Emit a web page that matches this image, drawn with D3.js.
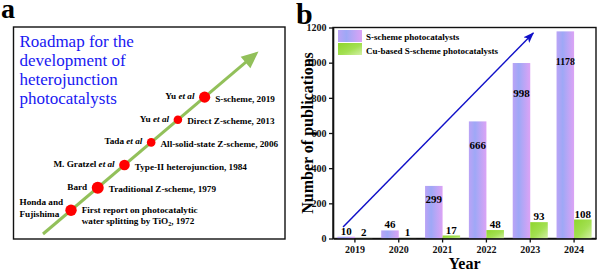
<!DOCTYPE html>
<html>
<head>
<meta charset="utf-8">
<script src="https://cdn.jsdelivr.net/npm/d3@7"></script>
<style>
  body { margin: 0; background: #fff; }
  svg, svg text { font-family: "Liberation Serif", "DejaVu Serif", serif; }
</style>
</head>
<body>
<svg width="600" height="272"></svg>
<script>
// panel b data
const years = [2019, 2020, 2021, 2022, 2023, 2024];
const sScheme = [10, 46, 299, 666, 998, 1178];
const cuScheme = [2, 1, 17, 48, 93, 108];
const seriesNames = ["S-scheme photocatalysts", "Cu-based S-scheme photocatalysts"];
const yTicks = [0, 200, 400, 600, 800, 1000, 1200];
const trend = [[2018.73, 65], [2023.07, 1169]];

// panel a data
const titleLines = ["Roadmap for the", "development of", "heterojunction", "photocatalysts"];
const nameLines = [["Honda and", "Fujishima"], ["Bard"], ["M. Gratzel"], ["Tada"], ["Yu"], ["Yu"]];
const etAl = [false, false, true, true, true, true];
const eventLines = [
  ["First report on photocatalytic", "water splitting by TiO\u2082, 1972"],
  ["Traditional Z-scheme, 1979"],
  ["Type-II heterojunction, 1984"],
  ["All-solid-state Z-scheme, 2006"],
  ["Direct Z-scheme, 2013"],
  ["S-scheme, 2019"]
];

const svg = d3.select("svg").attr("font-family", "Liberation Serif, serif");
const defs = svg.append("defs");

// gradients for the bars
const gPurple = defs.append("linearGradient").attr("id", "gPurple")
    .attr("x1", "0").attr("y1", "0").attr("x2", "1").attr("y2", "0");
gPurple.append("stop").attr("offset", "0").attr("stop-color", "#bba3f6");
gPurple.append("stop").attr("offset", "0.35").attr("stop-color", "#9ea8f6");
gPurple.append("stop").attr("offset", "1").attr("stop-color", "#dca3f5");

const gGreen = defs.append("linearGradient").attr("id", "gGreen")
    .attr("x1", "0").attr("y1", "0").attr("x2", "1").attr("y2", "1");
gGreen.append("stop").attr("offset", "0").attr("stop-color", "#8ed52c");
gGreen.append("stop").attr("offset", "0.55").attr("stop-color", "#a3e052");
gGreen.append("stop").attr("offset", "1").attr("stop-color", "#d4f0a6");

defs.append("marker").attr("id", "blueHead")
    .attr("markerUnits", "userSpaceOnUse")
    .attr("markerWidth", 11).attr("markerHeight", 8)
    .attr("refX", 10).attr("refY", 4).attr("orient", "auto")
  .append("path").attr("d", "M0,0L11,4L0,8L2.5,4Z").attr("fill", "#1010c8");

// ---------------- panel a ----------------
svg.append("text").attr("x", 1).attr("y", 18)
    .style("font-size", "28px").style("font-weight", "bold").text("a");

svg.append("rect").attr("x", 13.5).attr("y", 27).attr("width", 271.5).attr("height", 212)
    .attr("fill", "none").attr("stroke", "#111").attr("stroke-width", 1.4);

svg.append("g").selectAll("text").data(titleLines).join("text")
    .attr("x", 19.5).attr("y", (d, i) => 46.7 + i * 19.2)
    .attr("fill", "#1818f2").style("font-size", "17px").text(d => d);

const road = {x0: 43, y0: 234, x1: 258.5, y1: 51.5};
const roadLen = Math.hypot(road.x1 - road.x0, road.y1 - road.y0);
const ux = (road.x1 - road.x0) / roadLen, uy = (road.y1 - road.y0) / roadLen;
const headL = 17, headW = 7.5;
svg.append("line")
    .attr("x1", road.x0).attr("y1", road.y0)
    .attr("x2", road.x1 - ux * (headL - 2)).attr("y2", road.y1 - uy * (headL - 2))
    .attr("stroke", "#92c05a").attr("stroke-width", 3);
const bx = road.x1 - ux * headL, by = road.y1 - uy * headL;
svg.append("path")
    .attr("d", `M${road.x1},${road.y1}L${bx - uy * headW},${by + ux * headW}L${bx + uy * headW},${by - ux * headW}Z`)
    .attr("fill", "#92c05a");

const along = d3.scaleLinear().domain([0, nameLines.length - 1]).range([0.13, 0.75]);
const dotR = [5.7, 6, 5.3, 4.3, 4.3, 5.6];
const pt = i => [road.x0 + along(i) * (road.x1 - road.x0), road.y0 + along(i) * (road.y1 - road.y0)];

function richLine(sel, str) {
  const parts = str.split("\u2082");
  sel.append("tspan").text(parts[0]);
  if (parts.length > 1) {
    sel.append("tspan").attr("dy", 2).style("font-size", "6px").text("2");
    sel.append("tspan").attr("dy", -2).text(parts[1]);
  }
}

const miles = svg.append("g").style("font-size", "9.2px").style("font-weight", "bold");
nameLines.forEach((lines, i) => {
  const [cx, cy] = pt(i);
  const r = dotR[i];
  if (lines.length > 1) {
    lines.forEach((ln, k) => {
      miles.append("text").attr("x", 19.5).attr("y", cy - 5 + k * 11.5).text(ln);
    });
  } else {
    const t = miles.append("text").attr("x", cx - r - 4.5).attr("y", cy + 2)
        .attr("text-anchor", "end");
    t.append("tspan").text(lines[0]);
    if (etAl[i]) t.append("tspan").style("font-style", "italic").text(" et al");
  }
  const ev = eventLines[i];
  ev.forEach((ln, k) => {
    const y0 = ev.length > 1 ? cy + 2.3 : cy + 4.5;
    const t = miles.append("text").attr("x", cx + r + 5).attr("y", y0 + k * 11);
    richLine(t, ln);
  });
  svg.append("circle").attr("cx", cx).attr("cy", cy).attr("r", r).attr("fill", "#ff0000");
});

// ---------------- panel b ----------------
svg.append("text").attr("x", 296).attr("y", 23.5)
    .style("font-size", "30px").style("font-weight", "bold").text("b");

const m = {left: 333, right: 596, top: 27.5, bottom: 238.5};
const x0 = d3.scaleBand().domain(years).range([m.left, m.right]).paddingInner(0.2).paddingOuter(0.1);
const x1 = d3.scaleBand().domain([0, 1]).range([0, x0.bandwidth()]);
const y = d3.scaleLinear().domain([0, 1200]).range([m.bottom, m.top]);
const xYear = d3.scaleLinear().domain([years[0], years[years.length - 1]])
    .range([x0(years[0]) + x0.bandwidth() / 2, x0(years[years.length - 1]) + x0.bandwidth() / 2]);

svg.append("rect").attr("x", m.left).attr("y", m.top)
    .attr("width", m.right - m.left).attr("height", m.bottom - m.top)
    .attr("fill", "none").attr("stroke", "#111").attr("stroke-width", 1.4);

const series = [sScheme, cuScheme];
const fills = ["url(#gPurple)", "url(#gGreen)"];
const bw = x1.bandwidth();

series.forEach((vals, s) => {
  svg.append("g").selectAll("rect").data(vals).join("rect")
      .attr("x", (d, i) => x0(years[i]) + x1(s))
      .attr("y", d => y(d))
      .attr("width", bw)
      .attr("height", d => y(0) - y(d))
      .attr("fill", fills[s]);
});

// value labels
const labels = svg.append("g").style("font-weight", "bold").attr("text-anchor", "middle");
series.forEach((vals, s) => {
  vals.forEach((v, i) => {
    const cx = x0(years[i]) + x1(s) + bw / 2;
    const txt = String(v);
    const inside = s === 0 && v > 200;
    const fs = Math.min(11, (bw + 2) / (0.5 * txt.length));
    labels.append("text")
        .attr("x", cx)
        .attr("y", inside ? y(v) + Math.min(34, 8 + v * 0.03) : y(v) - 2)
        .style("font-size", fs + "px")
        .text(txt);
  });
});

// trend arrow
svg.append("line")
    .attr("x1", xYear(trend[0][0])).attr("y1", y(trend[0][1]))
    .attr("x2", xYear(trend[1][0])).attr("y2", y(trend[1][1]))
    .attr("stroke", "#1010c8").attr("stroke-width", 1.5)
    .attr("marker-end", "url(#blueHead)");

// axes
const yAxis = svg.append("g").attr("transform", `translate(${m.left},0)`)
    .call(d3.axisLeft(y).tickValues(yTicks).tickFormat(d3.format("d"))
      .tickSize(4).tickSizeOuter(0).tickPadding(2.5));
const xAxis = svg.append("g").attr("transform", `translate(0,${m.bottom})`)
    .call(d3.axisBottom(x0).tickSize(4).tickSizeOuter(0).tickPadding(3));
[yAxis, xAxis].forEach(a => {
  a.attr("font-family", null).attr("font-size", null);
  a.selectAll("text").style("font-size", "10px").style("font-weight", "bold").attr("fill", "#111");
  a.select(".domain").attr("stroke", "#111").attr("stroke-width", 1.6);
  a.selectAll(".tick line").attr("stroke", "#111").attr("stroke-width", 1.3);
});

svg.append("text").attr("x", (m.left + m.right) / 2).attr("y", 269)
    .attr("text-anchor", "middle").style("font-size", "16px").style("font-weight", "bold")
    .text("Year");
svg.append("text")
    .attr("transform", `translate(312.5,${(m.top + m.bottom) / 2}) rotate(-90)`)
    .attr("text-anchor", "middle").style("font-size", "16px").style("font-weight", "bold")
    .text("Number of publications");

// legend
const leg = svg.append("g").style("font-size", "9px").style("font-weight", "bold");
seriesNames.forEach((name, i) => {
  leg.append("rect").attr("x", m.left + 5).attr("y", 30 + i * 13)
      .attr("width", 24).attr("height", 12).attr("fill", fills[i]);
  leg.append("text").attr("x", m.left + 33).attr("y", 39.5 + i * 14.5).text(name);
});
</script>
</body>
</html>
